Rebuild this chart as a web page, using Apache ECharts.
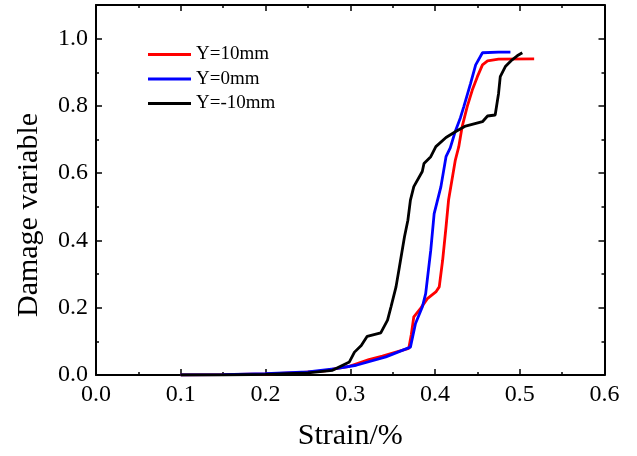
<!DOCTYPE html>
<html><head><meta charset="utf-8">
<script src="https://cdn.jsdelivr.net/npm/echarts@6/dist/echarts.min.js"></script>
<style>html,body{margin:0;padding:0;background:#fff}#c{width:637px;height:456px}</style>
</head><body><div id="c"></div>
<script>
var seriesNames = ['Y=10mm', 'Y=0mm', 'Y=-10mm'];
var redX = [0.10,0.15,0.20,0.24,0.27,0.283,0.299,0.322,0.338,0.369,0.372,0.375,0.383,0.391,0.401,0.405,0.409,0.413,0.416,0.420,0.424,0.428,0.432,0.438,0.444,0.450,0.456,0.462,0.475,0.517];
var redY = [0.0,0.001,0.003,0.007,0.012,0.019,0.026,0.046,0.056,0.079,0.12,0.173,0.198,0.227,0.247,0.262,0.341,0.44,0.52,0.58,0.639,0.678,0.738,0.798,0.847,0.887,0.922,0.934,0.939,0.940];
var blueX = [0.10,0.15,0.20,0.25,0.283,0.307,0.342,0.371,0.373,0.377,0.385,0.389,0.395,0.399,0.403,0.407,0.413,0.418,0.424,0.430,0.434,0.442,0.448,0.456,0.475,0.489];
var blueY = [0.0,0.001,0.004,0.009,0.019,0.029,0.054,0.083,0.088,0.153,0.202,0.242,0.371,0.48,0.52,0.56,0.649,0.675,0.725,0.765,0.798,0.867,0.922,0.958,0.960,0.960];
var blackX = [0.10,0.15,0.20,0.25,0.279,0.299,0.305,0.313,0.320,0.336,0.344,0.348,0.354,0.358,0.364,0.368,0.371,0.375,0.385,0.387,0.395,0.401,0.413,0.424,0.436,0.456,0.462,0.471,0.475,0.477,0.483,0.491,0.497,0.503];
var blackY = [0.0,0.0,0.002,0.006,0.014,0.039,0.068,0.088,0.115,0.125,0.163,0.202,0.262,0.321,0.411,0.46,0.52,0.56,0.605,0.629,0.649,0.679,0.706,0.723,0.740,0.753,0.770,0.773,0.837,0.887,0.917,0.937,0.949,0.958];
var colors = ['#ff0000', '#0000ff', '#000000'];

function pairs(xs, ys){ return xs.map(function(x,i){return [x, ys[i]];}); }
var font = 'Liberation Serif';
var chart = echarts.init(document.getElementById('c'));
function axisBase(show){
  return {
    axisLine:{show:true,onZero:false,lineStyle:{color:'#000',width:2}},
    axisTick:{show:true,inside:true,length:6,lineStyle:{color:'#000',width:1.5}},
    minorTick:{show:true,splitNumber:2,length:3,lineStyle:{color:'#000',width:1.5}},
    splitLine:{show:false},
    axisLabel:{show:show,color:'#000',fontFamily:font,fontSize:24,margin:8}
  };
}
var xMain = Object.assign(axisBase(true), {type:'value',min:0,max:0.6,interval:0.1,position:'bottom',
  name:'Strain/%',nameLocation:'middle',nameGap:46,nameTextStyle:{fontFamily:font,fontSize:30,color:'#000'}});
xMain.axisLabel.formatter = function(v){return v.toFixed(1);};
var xTop = Object.assign(axisBase(false), {type:'value',min:0,max:0.6,interval:0.1,position:'top'});
var yMain = Object.assign(axisBase(true), {type:'value',min:0,max:1.1,interval:0.2,position:'left',
  name:'Damage variable',nameLocation:'middle',nameGap:52,
  nameTextStyle:{fontFamily:font,fontSize:30,color:'#000',padding:[0,50,0,0]}});
yMain.axisLabel.formatter = function(v){return v > 1.05 ? '' : v.toFixed(1);};
var yRight = Object.assign(axisBase(false), {type:'value',min:0,max:1.1,interval:0.2,position:'right'});

var allX = [redX, blueX, blackX], allY = [redY, blueY, blackY];
chart.setOption({
  animation:false,
  color:colors,
  grid:{left:96,right:32.5,top:5,bottom:81,containLabel:false},
  legend:{orient:'vertical',left:148,top:45,padding:0,icon:'rect',itemWidth:43,itemHeight:3,itemGap:5.5,
    textStyle:{fontFamily:font,fontSize:19,color:'#000',lineHeight:18},data:seriesNames},
  xAxis:[xMain, xTop],
  yAxis:[yMain, yRight],
  series: seriesNames.map(function(n,i){
    return {name:n,type:'line',xAxisIndex:0,yAxisIndex:0,showSymbol:false,symbol:'none',
      lineStyle:{color:colors[i],width:2.8},itemStyle:{color:colors[i]},data:pairs(allX[i], allY[i])};
  })
});
</script></body></html>
